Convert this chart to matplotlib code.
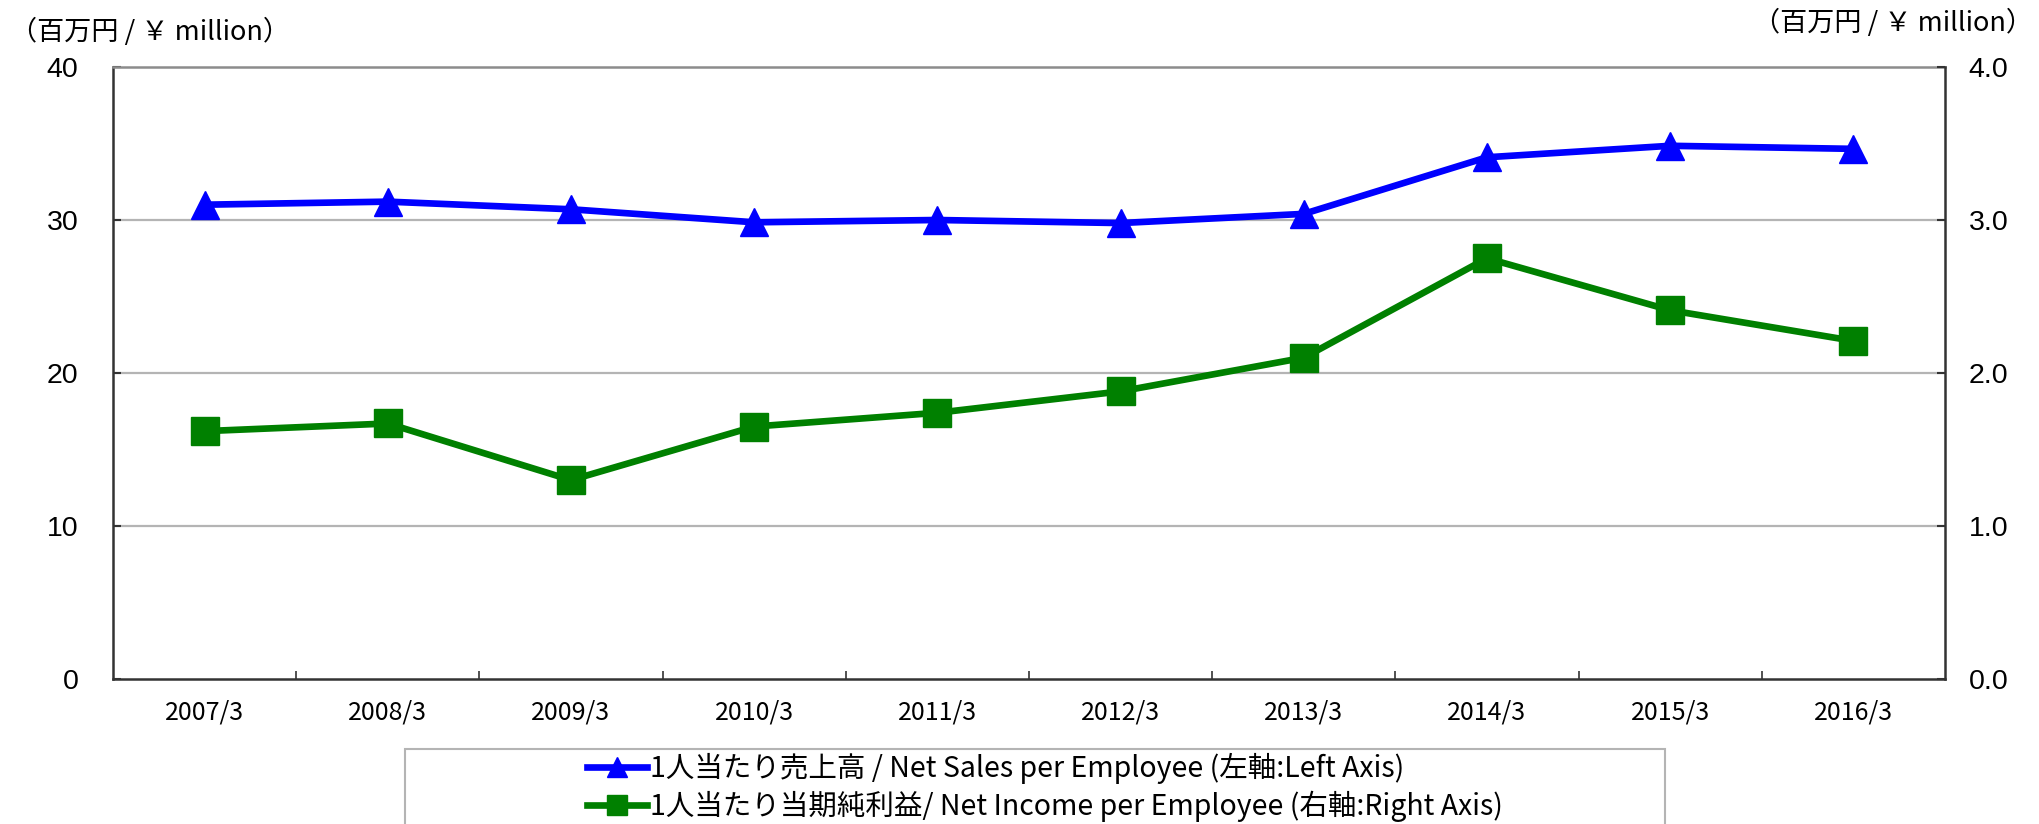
import matplotlib
matplotlib.use('Agg')
import matplotlib.pyplot as plt
from matplotlib.patches import Rectangle
import numpy as np

plt.rcParams['font.family'] = ['Noto Sans CJK JP', 'DejaVu Sans']

years = ['2007/3', '2008/3', '2009/3', '2010/3', '2011/3',
         '2012/3', '2013/3', '2014/3', '2015/3', '2016/3']
sales_per_emp = [31.0, 31.2, 30.7, 29.85, 30.0, 29.8, 30.4, 34.1, 34.85, 34.65]
income_per_emp = [1.62, 1.67, 1.30, 1.65, 1.74, 1.88, 2.10, 2.75, 2.41, 2.21]
left_ticks = [0, 10, 20, 30, 40]
right_ticks = [0.0, 1.0, 2.0, 3.0, 4.0]

W, H = 2039, 824
fig = plt.figure(figsize=(W / 100, H / 100), dpi=100)
ax = fig.add_axes([113 / W, 145 / H, (1945 - 113) / W, (679 - 67) / H])
ax2 = ax.twinx()

x = np.arange(len(years))
dark = '#333333'

# grid + spines
ax.set_ylim(0, 40)
ax.set_yticks(left_ticks)
ax.set_yticklabels([str(v) for v in left_ticks], family='Liberation Sans', fontsize=20.5)
for v in left_ticks[1:-1]:
    ax.axhline(v, color='#b4b4b4', lw=1.6, zorder=0)
ax.spines['top'].set_color('#8c8c8c')
ax.spines['top'].set_linewidth(1.8)
for s in ['left', 'bottom']:
    ax.spines[s].set_color(dark)
    ax.spines[s].set_linewidth(1.8)
ax.spines['right'].set_visible(False)
ax.tick_params(axis='y', direction='in', length=6, width=1.5, color=dark, pad=25)

ax.set_xlim(-0.5, len(years) - 0.5)
ax.set_xticks(x)
ax.set_xticklabels(years, fontsize=18)
ax.set_xticks(x[:-1] + 0.5, minor=True)
ax.tick_params(axis='x', which='major', length=0, pad=15)
ax.tick_params(axis='x', which='minor', direction='in', length=6, width=1.2, color=dark)

ax2.set_ylim(0, 4.0)
ax2.set_yticks(right_ticks)
ax2.set_yticklabels(['%.1f' % v for v in right_ticks], family='Liberation Sans', fontsize=20.5)
ax2.tick_params(axis='y', direction='in', length=6, width=1.5, color=dark, pad=17)
for s in ['top', 'left', 'bottom']:
    ax2.spines[s].set_visible(False)
ax2.spines['right'].set_color(dark)
ax2.spines['right'].set_linewidth(1.8)

l1, = ax.plot(x, sales_per_emp, color='#0000ff', lw=4.8, marker='^', ms=20,
              label='1人当たり売上高 / Net Sales per Employee (左軸:Left Axis)', zorder=5)
l2, = ax2.plot(x, income_per_emp, color='#008000', lw=4.8, marker='s', ms=20,
               label='1人当たり当期純利益/ Net Income per Employee (右軸:Right Axis)', zorder=4)

# unit labels
fig.text(10 / W, 1 - 32 / H, '（百万円 / ￥ million）', fontsize=19.5, ha='left', va='center')
fig.text(2033 / W, 1 - 23 / H, '（百万円 / ￥ million）', fontsize=19.5, ha='right', va='center')

# legend box (runs off the bottom edge)
fig.patches.append(Rectangle((405 / W, -0.1), (1665 - 405) / W, 0.1 + (824 - 749) / H,
                             transform=fig.transFigure, fill=False,
                             edgecolor='#b4b4b4', lw=1.5))
leg = fig.legend(handles=[l1, l2], loc='upper left', bbox_to_anchor=(587 / W, 1 - 753 / H),
                 frameon=False, fontsize=20.5, handlelength=2.1, handletextpad=0.1,
                 labelspacing=0.22, borderpad=0, borderaxespad=0, markerscale=0.7)

fig.savefig('out.png', dpi=100)
